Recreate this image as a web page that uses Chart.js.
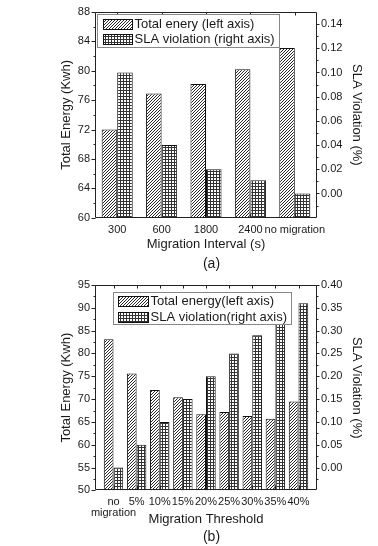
<!DOCTYPE html>
<html>
<head>
<meta charset="utf-8">
<script src="https://cdn.jsdelivr.net/npm/chart.js@4.4.1/dist/chart.umd.min.js"></script>
<style>
  html, body { margin: 0; padding: 0; background: #fff; }
  #wrap { position: relative; width: 378px; height: 546px; overflow: hidden; }
  canvas { position: absolute; left: 0; }
  #chartA { top: 0; }
  #chartB { top: 273px; }
</style>
</head>
<body>
<div id="wrap">
  <canvas id="chartA" width="378" height="273"></canvas>
  <canvas id="chartB" width="378" height="273"></canvas>
</div>
<script>
// --- (a) migration interval ---
const intervalLabels = ["300", "600", "1800", "2400", "no migration"];
const energyA = [72.0, 76.9, 78.2, 80.2, 83.1];
const slaA = [0.100, 0.040, 0.020, 0.011, 0.000];
const energyTicksA = [60, 64, 68, 72, 76, 80, 84, 88];
const slaTicksA = [0, 0.02, 0.04, 0.06, 0.08, 0.10, 0.12, 0.14];

// --- (b) migration threshold ---
const thresholdLabels = [["no", "migration"], "5%", "10%", "15%", "20%", "25%", "30%", "35%", "40%"];
const energyB = [83.1, 75.6, 72.0, 70.4, 66.7, 67.2, 66.3, 65.7, 69.5];
const slaB = [0.00, 0.05, 0.10, 0.15, 0.20, 0.25, 0.29, 0.34, 0.36];
const energyTicksB = [50, 55, 60, 65, 70, 75, 80, 85, 90, 95];
const slaTicksB = [0, 0.05, 0.10, 0.15, 0.20, 0.25, 0.30, 0.35, 0.40];

const FONT = '"Liberation Sans", Arial, sans-serif';
const INK = "#1a1a1a";
const AXIS = "#222";

function hatchPattern() {
  const c = document.createElement("canvas");
  c.width = 3; c.height = 3;
  const g = c.getContext("2d");
  g.fillStyle = "#fff";
  g.fillRect(0, 0, 3, 3);
  g.fillStyle = "#2a2a2a";
  for (let i = 0; i < 3; i++) g.fillRect(i, 2 - i, 1, 1);
  return g.createPattern(c, "repeat");
}

function gridPattern() {
  const c = document.createElement("canvas");
  c.width = 3; c.height = 3;
  const g = c.getContext("2d");
  g.fillStyle = "#fff";
  g.fillRect(0, 0, 3, 3);
  g.fillStyle = "#333";
  g.fillRect(0, 0, 3, 1);
  g.fillRect(0, 0, 1, 3);
  return g.createPattern(c, "repeat");
}

// box round the plot, inward x ticks, outward y ticks with minors
function drawFrame(chart) {
  const { ctx, chartArea: a, scales } = chart;
  const L = Math.round(a.left) + 0.5, R = Math.round(a.right) - 0.5;
  const T = Math.round(a.top) + 0.5, B = Math.round(a.bottom) - 0.5;
  ctx.save();
  ctx.strokeStyle = AXIS;
  ctx.lineWidth = 1;
  ctx.beginPath();
  ctx.rect(L, T, R - L, B - T);

  scales.x.ticks.forEach((t) => {
    const px = Math.round(scales.x.getPixelForValue(t.value)) + 0.5;
    ctx.moveTo(px, B); ctx.lineTo(px, B - 4);
    ctx.moveTo(px, T); ctx.lineTo(px, T + 3);
  });

  const yTicks = (scale, edge, dir, major, minor) => {
    const vals = scale.ticks.map((t) => t.value);
    const step = vals[1] - vals[0];
    vals.forEach((v) => {
      const py = Math.round(scale.getPixelForValue(v)) + 0.5;
      ctx.moveTo(edge, py); ctx.lineTo(edge + dir * major, py);
    });
    for (let v = vals[0] - step / 2; v < scale.max - 1e-9; v += step) {
      if (v <= scale.min) continue;
      const py = Math.round(scale.getPixelForValue(v)) + 0.5;
      ctx.moveTo(edge, py); ctx.lineTo(edge + dir * minor, py);
    }
  };
  yTicks(scales.y, L, -1, 4, 2);
  yTicks(scales.y1, R, 1, 3, 2);
  ctx.stroke();
  ctx.restore();
}

// frame + legend with a border, drawn over the bars
const boxLegend = {
  id: "boxLegend",
  afterDatasetsDraw(chart, args, o) {
    drawFrame(chart);
    const { ctx, chartArea } = chart;
    const x = Math.round(chartArea.left + o.dx) + 0.5;
    const y = Math.round(chartArea.top + o.dy) + 0.5;
    ctx.save();
    ctx.fillStyle = "#fff";
    ctx.fillRect(x, y, o.w, o.h);
    ctx.strokeStyle = "#888";
    ctx.lineWidth = 1;
    ctx.strokeRect(x, y, o.w, o.h);
    ctx.font = "13px " + FONT;
    ctx.textBaseline = "middle";
    chart.data.datasets.forEach((ds, i) => {
      const ry = y + o.rows[i];
      const sx = Math.round(x + o.sx) + 0.5;
      const sy = Math.round(ry - o.sh / 2) + 0.5;
      ctx.fillStyle = ds.backgroundColor;
      ctx.fillRect(sx, sy, o.sw, o.sh);
      ctx.strokeStyle = "#111";
      ctx.strokeRect(sx, sy, o.sw, o.sh);
      ctx.fillStyle = INK;
      ctx.fillText(ds.label, x + o.tx, ry + 0.5);
    });
    ctx.restore();
  },
};

function build(canvas, o) {
  const toPoints = (arr) => arr.map((v, i) => ({ x: i + 1, y: v }));
  return new Chart(canvas, {
    type: "bar",
    data: {
      datasets: [
        {
          label: o.energyLabel,
          data: toPoints(o.energy),
          yAxisID: "y",
          base: o.energyMin,
          backgroundColor: hatchPattern(),
          borderColor: "#111",
          borderWidth: 1,
          categoryPercentage: o.catPct,
          barPercentage: 1,
        },
        {
          label: o.slaLabel,
          data: toPoints(o.sla),
          yAxisID: "y1",
          base: o.slaMin,
          backgroundColor: gridPattern(),
          borderColor: "#111",
          borderWidth: 1,
          categoryPercentage: o.catPct,
          barPercentage: 1,
        },
      ],
    },
    options: {
      responsive: false,
      animation: false,
      layout: { padding: { left: 55, right: 10, top: 12, bottom: o.padBottom } },
      scales: {
        x: {
          type: "linear",
          offset: false,
          min: o.xMin,
          max: o.xMax,
          afterBuildTicks: (s) => { s.ticks = o.labels.map((_, i) => ({ value: i + 1 })); },
          afterFit: (s) => { s.height = o.xHeight; },
          grid: { display: false, drawTicks: false, offset: false },
          border: { display: false },
          ticks: {
            autoSkip: false,
            maxRotation: 0,
            minRotation: 0,
            padding: 7,
            color: INK,
            font: { family: FONT, size: 11, lineHeight: o.tickLH },
            callback: (v, i) => o.labels[i],
          },
          title: {
            display: true,
            text: o.xTitle,
            color: INK,
            font: { family: FONT, size: 13 },
            padding: { top: 0, bottom: 2 },
          },
        },
        y: {
          position: "left",
          min: o.energyMin,
          max: o.energyMax,
          afterBuildTicks: (s) => { s.ticks = o.energyTicks.map((v) => ({ value: v })); },
          afterFit: (s) => { s.width = 40; },
          grid: { display: false, drawTicks: false },
          border: { display: false },
          ticks: { padding: 5, color: INK, font: { family: FONT, size: 11 } },
          title: {
            display: true,
            text: "Total Energy (Kwh)",
            color: INK,
            font: { family: FONT, size: 13 },
            padding: { top: 4, bottom: 0 },
          },
        },
        y1: {
          position: "right",
          min: o.slaMin,
          max: o.slaMax,
          afterBuildTicks: (s) => { s.ticks = o.slaTicks.map((v) => ({ value: v })); },
          afterFit: (s) => { s.width = 51; },
          grid: { display: false, drawTicks: false },
          border: { display: false },
          ticks: {
            padding: 4,
            color: INK,
            font: { family: FONT, size: 11 },
            callback: (v) => Number(v).toFixed(2),
          },
          title: {
            display: true,
            text: "SLA Violation (%)",
            color: INK,
            font: { family: FONT, size: 13 },
            padding: { top: 4, bottom: 0 },
          },
        },
      },
      plugins: {
        legend: { display: false },
        tooltip: { enabled: false },
        title: {
          display: true,
          text: o.caption,
          position: "bottom",
          color: INK,
          font: { family: FONT, size: 14, weight: "normal" },
          padding: { top: o.capPad, bottom: 0 },
        },
        boxLegend: o.legend,
      },
    },
    plugins: [boxLegend],
  });
}

build(document.getElementById("chartA"), {
  labels: intervalLabels,
  energy: energyA,
  sla: slaA,
  energyTicks: energyTicksA,
  slaTicks: slaTicksA,
  energyMin: 60, energyMax: 88,
  slaMin: -0.02, slaMax: 0.15,
  xMin: 0.5, xMax: 5.5,
  catPct: 0.7,
  tickLH: 1,
  xHeight: 36.5,
  padBottom: 0,
  capPad: 2,
  xTitle: "Migration Interval (s)",
  caption: "(a)",
  energyLabel: "Total enery (left axis)",
  slaLabel: "SLA violation (right axis)",
  legend: { dx: 2, dy: 2, w: 182, h: 33, sx: 5, sw: 29, sh: 10, rows: [9.5, 24], tx: 37 },
});

build(document.getElementById("chartB"), {
  labels: thresholdLabels,
  energy: energyB,
  sla: slaB,
  energyTicks: energyTicksB,
  slaTicks: slaTicksB,
  energyMin: 50, energyMax: 95,
  slaMin: -0.05, slaMax: 0.40,
  xMin: 0.2, xMax: 9.8,
  catPct: 0.84,
  tickLH: 0.92,
  xHeight: 38.8,
  padBottom: 0,
  capPad: 0,
  xTitle: "Migration Threshold",
  caption: "(b)",
  energyLabel: "Total energy(left axis)",
  slaLabel: "SLA violation(right axis)",
  legend: { dx: 18, dy: 7, w: 178, h: 32, sx: 4, sw: 30, sh: 10, rows: [8.5, 24], tx: 37 },
});
</script>
</body>
</html>
